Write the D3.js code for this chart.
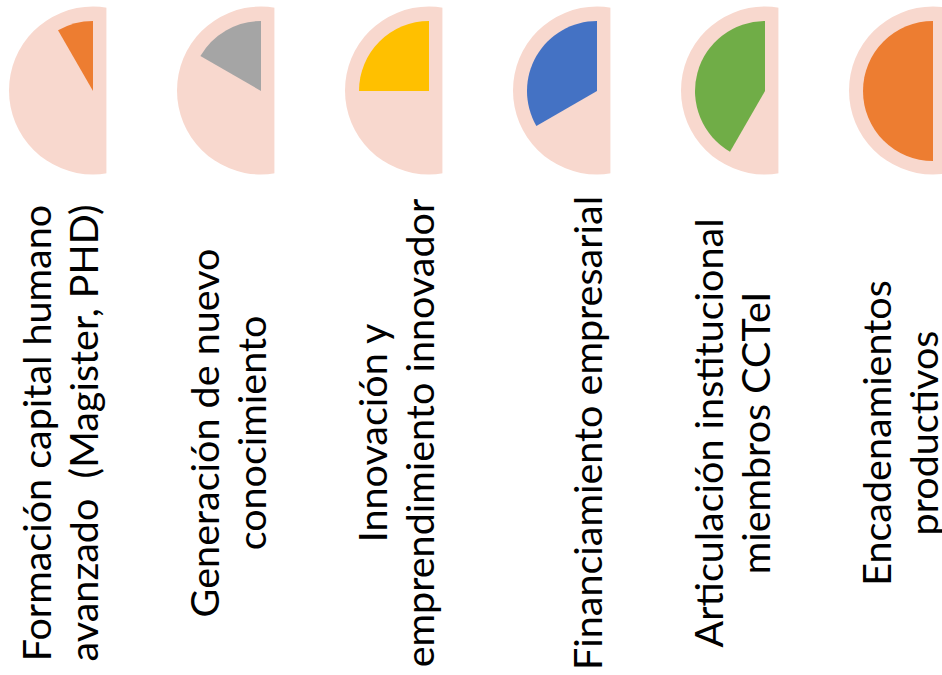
<!DOCTYPE html>
<html>
<head>
<meta charset="utf-8">
<script src="https://cdn.jsdelivr.net/npm/d3@7"></script>
<style>
  body { margin: 0; background: #fff; }
  svg { display: block; }
  text { font-family: Lato, "Noto Sans", sans-serif; fill: #000; white-space: pre; }
</style>
</head>
<body>
<svg id="chart" width="942" height="675"></svg>
<script>
// ejes / categorias
var categorias = [
    "Formación capital humano avanzado",
    "Generación de nuevo conocimiento",
    "Innovación y emprendimiento innovador",
    "Financiamiento empresarial",
    "Articulación institucional miembros CCTeI",
    "Encadenamientos productivos"
];
// lineas de cada etiqueta, tal como salen en la lamina
var etiquetas = [
    ["Formación capital humano", "avanzado  (Magister, PHD)"],
    ["Generación de nuevo", "conocimiento"],
    ["Innovación y", "emprendimiento innovador"],
    ["Financiamiento empresarial"],
    ["Articulación institucional", "miembros CCTeI"],
    ["Encadenamientos", "productivos"]
];
// avance de cada eje, en porcentaje
var avance = [8.33, 16.67, 25, 33.33, 41.67, 50];
var colores = ["#ED7D31", "#A5A5A5", "#FFC000", "#4472C4", "#70AD47", "#ED7D31"];

var fondo = "#F8D8CE";
var cy = 90.5;
var rFondo = 84, rPie = 70;
var recorte = 13.4;      // el circulo de fondo esta cortado a la derecha
var baseLabel = 5;       // base de la ultima linea, respecto al centro
var interlinea = 47;
var centroTexto = 433;

var svg = d3.select("#chart");

var x = d3.scalePoint()
    .domain(categorias)
    .range([93, 933]);

var angulo = d3.scaleLinear()
    .domain([0, 100])
    .range([0, 2 * Math.PI]);

var arco = d3.arc()
    .innerRadius(0)
    .outerRadius(rPie)
    .startAngle(function(d){ return -angulo(d); })
    .endAngle(0);

var datos = categorias.map(function(c, i){
    return {cat: c, valor: avance[i], color: colores[i], lineas: etiquetas[i], i: i};
});

var defs = svg.append("defs");
defs.selectAll("clipPath")
    .data(datos)
    .enter().append("clipPath")
    .attr("id", function(d){ return "corte" + d.i; })
    .append("rect")
    .attr("x", function(d){ return x(d.cat) - rFondo - 2; })
    .attr("y", cy - rFondo - 2)
    .attr("width", rFondo + 2 + recorte)
    .attr("height", 2 * rFondo + 4);

var grupo = svg.selectAll("g.eje")
    .data(datos)
    .enter().append("g")
    .attr("class", "eje");

grupo.append("circle")
    .attr("cx", function(d){ return x(d.cat); })
    .attr("cy", cy)
    .attr("r", rFondo)
    .attr("clip-path", function(d){ return "url(#corte" + d.i + ")"; })
    .style("fill", fondo);

grupo.append("path")
    .attr("transform", function(d){ return "translate(" + x(d.cat) + "," + (cy + 0.5) + ")"; })
    .attr("d", function(d){ return arco(d.valor); })
    .style("fill", function(d){ return d.color; });

// etiquetas giradas 90 grados
grupo.each(function(d){
    var n = d.lineas.length;
    var g = d3.select(this).append("g")
        .attr("transform", "translate(" + (x(d.cat) + baseLabel) + "," + centroTexto + ") rotate(-90)");
    g.selectAll("text")
        .data(d.lineas)
        .enter().append("text")
        .attr("x", 0)
        .attr("y", function(l, k){ return -(n - 1 - k) * interlinea; })
        .attr("text-anchor", "middle")
        .style("font-size", "39.5px")
        .text(function(l){ return l; });
});
</script>
</body>
</html>
